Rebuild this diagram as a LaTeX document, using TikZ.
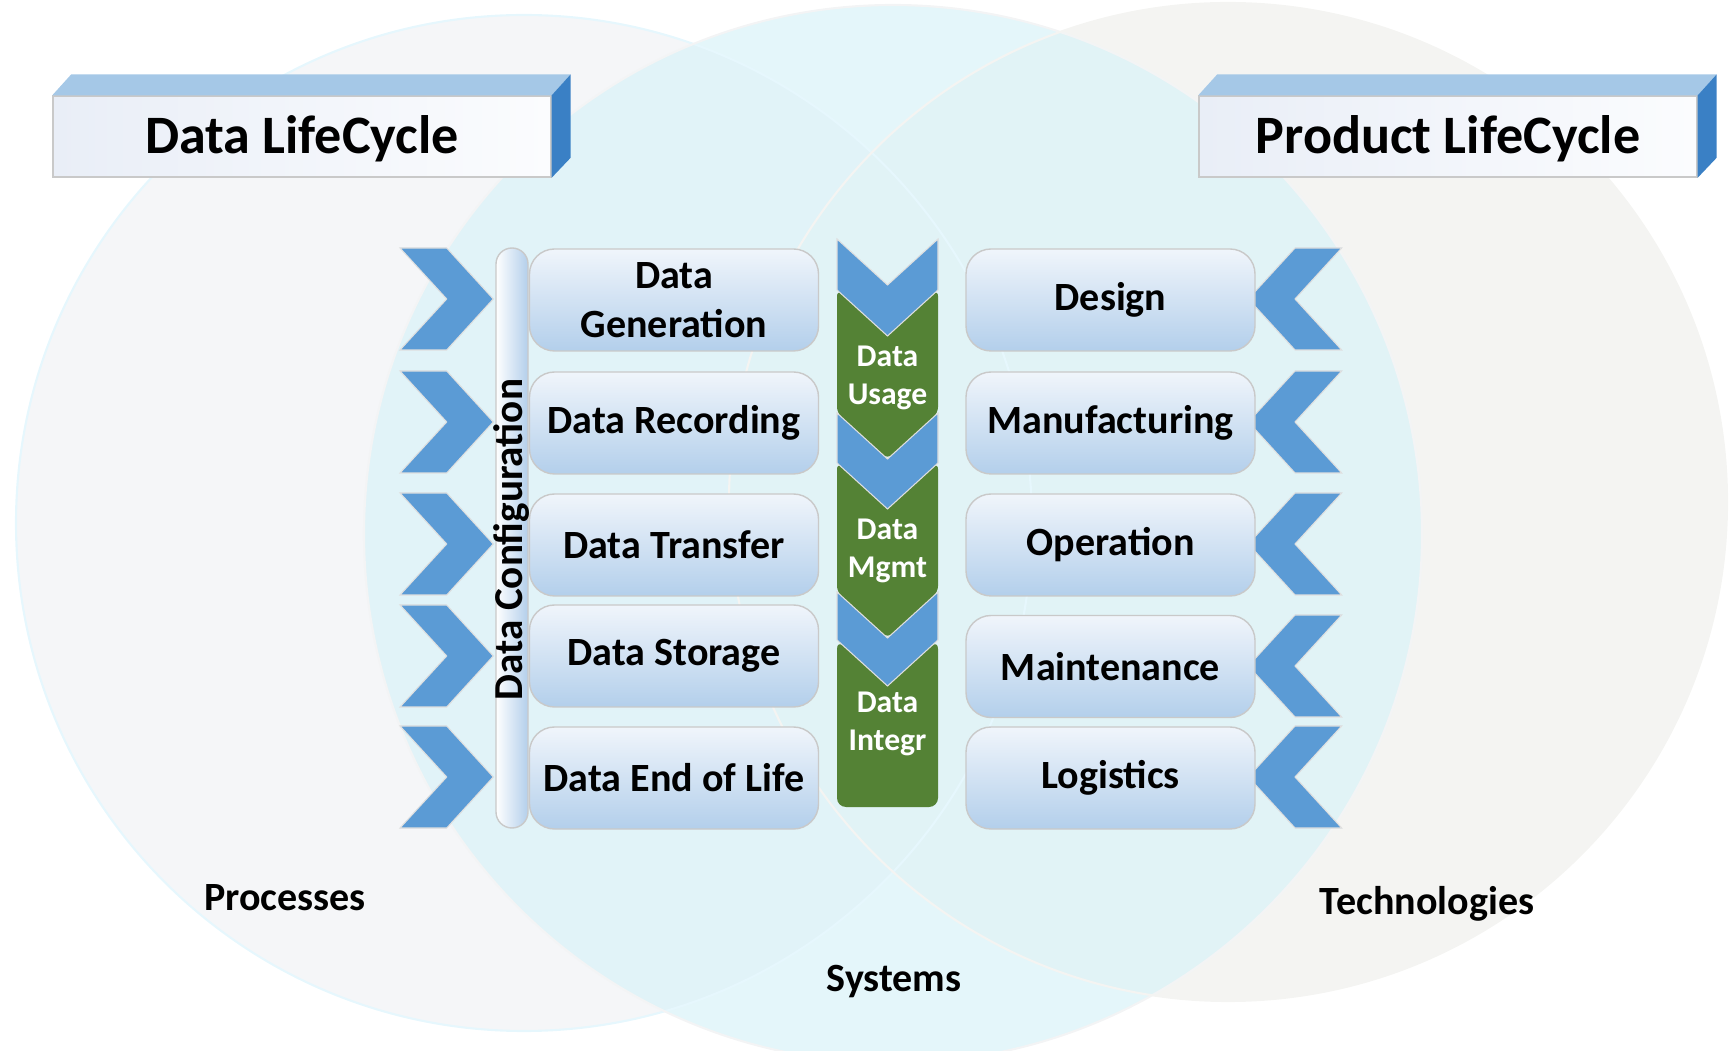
\documentclass[tikz,border=0pt]{standalone}
\usepackage{fontspec}
\setmainfont{Carlito}
\usetikzlibrary{positioning}

\definecolor{chevblue}{HTML}{5B9BD5}
\definecolor{topblue}{HTML}{A5C8E7}
\definecolor{sideblue}{HTML}{3A80C5}
\definecolor{facelight}{HTML}{E9EEF7}
\definecolor{facewhite}{HTML}{FBFCFE}
\definecolor{boxlight}{HTML}{F0F5FB}
\definecolor{boxdark}{HTML}{B3CFEB}
\definecolor{flowgreen}{HTML}{548235}
\definecolor{procfill}{HTML}{F5F6F8}
\definecolor{sysfill}{HTML}{DBF3F8}
\definecolor{techfill}{HTML}{F4F4F2}
\definecolor{rimgray}{HTML}{C9C9C9}

\tikzset{
  stage/.style={rounded corners=2.5mm, draw=rimgray, top color=boxlight, bottom color=boxdark,
    minimum width=28.9mm, minimum height=10.2mm, inner sep=0pt, align=center,
    font=\fontsize{11.4}{13.9}\selectfont\bfseries},
  title/.style={draw=rimgray, left color=facelight, right color=facewhite,
    minimum width=49.8mm, minimum height=8.1mm, inner sep=0pt,
    text height=11.5pt, text depth=2pt,
    font=\fontsize{15.4}{18}\selectfont\bfseries},
  flow/.style={text=white, align=center, font=\fontsize{9}{10.9}\selectfont\bfseries},
  area/.style={font=\fontsize{11.4}{13.9}\selectfont\bfseries},
  chev/.style={fill=chevblue, draw=white!75!gray, line width=0.3pt}
}

\begin{document}
\begin{tikzpicture}[x=0.1mm, y=-0.1mm]
  \useasboundingbox (0,0) rectangle (1731,1051);

  % the three circles
  \fill[procfill] (524,523) circle[radius=50.8mm];
  \fill[techfill] (1228,502) circle[radius=49.9mm];
  \fill[sysfill, fill opacity=0.75] (893,534) circle[radius=52.9mm];
  \draw[cyan!10, line width=0.6pt] (524,523) circle[radius=50.8mm];
  \draw[cyan!8!gray!10, line width=0.6pt] (893,534) circle[radius=52.9mm];
  \draw[olive!8!gray!10, line width=0.6pt] (1228,502) circle[radius=49.9mm];

  % title boxes
  \node[title] (dlc) at (302,136.5) {Data LifeCycle};
  \node[title] (plc) at (1448,136.5) {Product LifeCycle};
  \foreach \t in {dlc, plc} {
    \fill[topblue] (\t.north west) -- ++(1.9mm,2.1mm) -- ([shift={(1.9mm,2.1mm)}]\t.north east) -- (\t.north east) -- cycle;
    \fill[sideblue] (\t.north east) -- ++(1.9mm,2.1mm) -- ([shift={(1.9mm,2.0mm)}]\t.south east) -- (\t.south east) -- cycle;
  }

  % chevrons left and right
  \foreach \y in {248, 371, 493, 605, 726}
    \draw[chev] (400,\y) -- (446.7,\y) -- (493.3,\y+51) -- (446.7,\y+102) -- (400,\y+102) -- (446.7,\y+51) -- cycle;
  \foreach \y in {248, 371, 493, 615, 726}
    \draw[chev] (1341.7,\y) -- (1295,\y) -- (1248.3,\y+51) -- (1295,\y+102) -- (1341.7,\y+102) -- (1295,\y+51) -- cycle;

  % configuration bar
  \node[rounded corners=1.6mm, draw=rimgray, left color=white!95!boxlight, right color=boxdark,
        minimum width=3.2mm, minimum height=58mm, inner sep=0pt] (cfgbar) at (512,538) {};
  \node[rotate=90, inner sep=0pt, font=\fontsize{11.7}{14}\selectfont\bfseries] (cfgtext) at (512,539.5) {Data Configuration};

  % data lifecycle
  \node[stage] (gen)   at (674,300)   {Data\\Generation};
  \node[stage] (rec)   at (674,423)   {Data Recording};
  \node[stage] (trans) at (674,545)   {Data Transfer};
  \node[stage] (stor)  at (674,656)   {Data Storage};
  \node[stage] (eol)   at (674,778)   {Data End of Life};

  % product lifecycle
  \node[stage] (design) at (1110.5,300)   {Design};
  \node[stage] (manuf)  at (1110.5,423)   {Manufacturing};
  \node[stage] (oper)   at (1110.5,545)   {Operation};
  \node[stage] (maint)  at (1110.5,666.5) {Maintenance};
  \node[stage] (logi)   at (1110.5,778)   {Logistics};

  % middle column
  \fill[flowgreen, rounded corners=0.6mm] (837,290) -- (887.5,336) -- (938,290) -- (938,413) -- (887.5,459) -- (837,413) -- cycle;
  \fill[flowgreen, rounded corners=0.6mm] (837,463) -- (887.5,509) -- (938,463) -- (938,592) -- (887.5,638) -- (837,592) -- cycle;
  \fill[flowgreen, rounded corners=0.9mm] (837,640) -- (887.5,686) -- (938,640) -- (938,807) -- (837,807) -- cycle;
  \foreach \t/\b in {239/290, 413/463, 592/640}
    \draw[chev] (837,\t) -- (887.5,\t+46) -- (938,\t) -- (938,\b) -- (887.5,\b+46) -- (837,\b) -- cycle;

  \node[flow] (usage) at (887.5,378) {Data\\Usage};
  \node[flow] (mgmt)  at (887.5,551) {Data\\Mgmt};
  \node[flow] (integ) at (887.5,724) {Data\\Integr};

  % circle labels
  \node[area] (proc) at (285,898)  {Processes};
  \node[area] (tech) at (1427,904) {Technologies};
  \node[area] (sys)  at (894,982)  {Systems};
\end{tikzpicture}
\end{document}
